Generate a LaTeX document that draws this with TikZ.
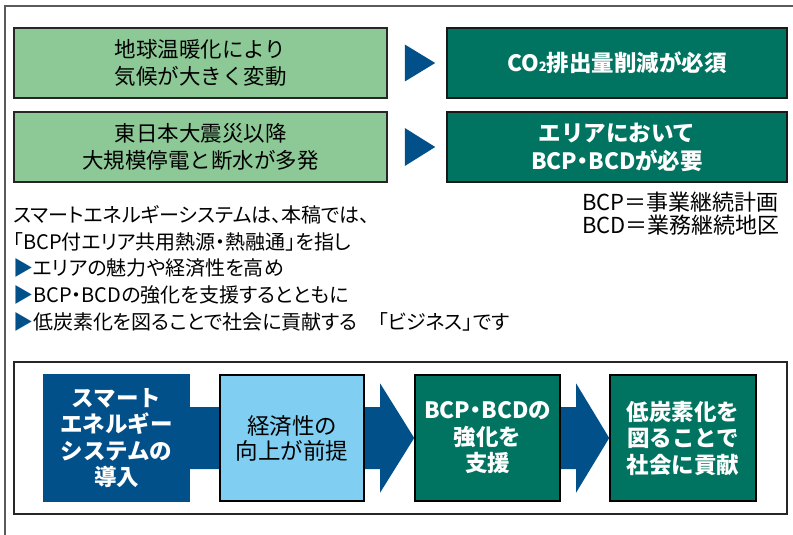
\documentclass[tikz,border=0pt]{standalone}
\usepackage{fontspec}
\setmainfont{Noto Sans CJK JP}
\newfontfamily\jpp[RawFeature=+palt]{Noto Sans CJK JP}
\usetikzlibrary{calc}
\definecolor{lgreen}{RGB}{141,201,150}
\definecolor{dgreen}{RGB}{0,116,96}
\definecolor{navy}{RGB}{2,80,138}
\definecolor{lblue}{RGB}{128,206,241}
\definecolor{framegray}{RGB}{90,90,90}
\pgfdeclarelayer{bg}
\pgfsetlayers{bg,main}
\tikzset{
  lgbox/.style={draw=black!85, line width=1.6pt, fill=lgreen, minimum width=373pt, minimum height=70pt, align=center, inner sep=0pt, font=\fontsize{21.5}{27}\selectfont},
  dgbox/.style={draw=black!90, line width=1.6pt, fill=dgreen, text=white, minimum width=340pt, minimum height=70pt, align=center, inner sep=0pt, font=\bfseries\fontsize{22.5}{28}\selectfont},
  para/.style={anchor=west, inner sep=0pt, font=\jpp\fontsize{20}{20}\selectfont},
  note/.style={anchor=west, inner sep=0pt, font=\fontsize{22}{22}\selectfont},
  flowbox/.style={minimum height=126pt, align=center, inner sep=0pt, font=\bfseries\fontsize{22.5}{26.5}\selectfont, text=white},
}
\begin{document}
\begin{tikzpicture}[x=1pt,y=-1pt]
\useasboundingbox (0,0) rectangle (793,535);
\draw[framegray, line width=1.3pt] (793,6) -- (5,6) -- (5,535);

% top rows
\node[lgbox] (g1) at (200.5,63) {地球温暖化により\\気候が大きく変動};
\node[lgbox] (g2) at (200.5,147) {東日本大震災以降\\大規模停電と断水が多発};
\node[dgbox] (d1) at (617,63) {CO{\fontsize{13}{13}\selectfont 2}排出量削減が必須};
\node[dgbox] (d2) at (617,147) {エリアにおいて\\BCP{\jpp ・}BCDが必要};
\fill[navy] ($(g1.east)+(17,-18.5)$) -- ($(d1.west)+(-11,0)$) -- ($(g1.east)+(17,18.5)$) -- cycle;
\fill[navy] ($(g2.east)+(17,-19)$) -- ($(d2.west)+(-11,0)$) -- ($(g2.east)+(17,19)$) -- cycle;

% notes
\node[note] (n1) at (582,202) {BCP＝事業継続計画};
\node[note] (n2) at (582,225) {BCD＝業務継続地区};

% paragraph
\node[para] (p1) at (13,215) {スマートエネルギーシステムは、本稿では、};
\node[para] (p2) at (13,242) {「BCP付エリア共用熱源・熱融通」を指し};
\node[para] (p3) at (13,268) {{\color{navy}▶}エリアの魅力や経済性を高め};
\node[para] (p4) at (13,295) {{\color{navy}▶}BCP・BCDの強化を支援するとともに};
\node[para] (p5) at (13,322) {{\color{navy}▶}低炭素化を図ることで社会に貢献する　「ビジネス」です};

% bottom flow
\node[draw=black!85, line width=1.6pt, minimum width=773pt, minimum height=152pt, inner sep=0pt] (fr) at (400.5,438) {};
\node[flowbox, fill=navy, minimum width=147pt, minimum height=128pt] (s1) at (116.5,438) {スマート\\エネルギー\\システムの\\導入};
\node[flowbox, draw=black, line width=1.6pt, fill=lblue, text=black, minimum width=144pt, font=\fontsize{22.5}{25}\selectfont] (s2) at (292,438) {経済性の\\向上が前提};
\node[flowbox, draw=black, line width=1.6pt, fill=dgreen, minimum width=145pt] (s3) at (487.5,438) {BCP{\jpp ・}BCDの\\強化を\\支援};
\node[flowbox, draw=black, line width=1.6pt, fill=dgreen, minimum width=146pt] (s4) at (683,438) {低炭素化を\\図ることで\\社会に貢献};

\begin{pgfonlayer}{bg}
\fill[navy] ($(s1.east)+(0,-31)$) -- ($(s3.west)+(-34,-31)$) -- ($(s3.west)+(-34,-54.5)$) -- (s3.west)
  -- ($(s3.west)+(-34,54.5)$) -- ($(s3.west)+(-34,31)$) -- ($(s1.east)+(0,31)$) -- cycle;
\fill[navy] ($(s3.east)+(0,-31)$) -- ($(s4.west)+(-33,-31)$) -- ($(s4.west)+(-33,-54.5)$) -- (s4.west)
  -- ($(s4.west)+(-33,54.5)$) -- ($(s4.west)+(-33,31)$) -- ($(s3.east)+(0,31)$) -- cycle;
\end{pgfonlayer}
\end{tikzpicture}
\end{document}
